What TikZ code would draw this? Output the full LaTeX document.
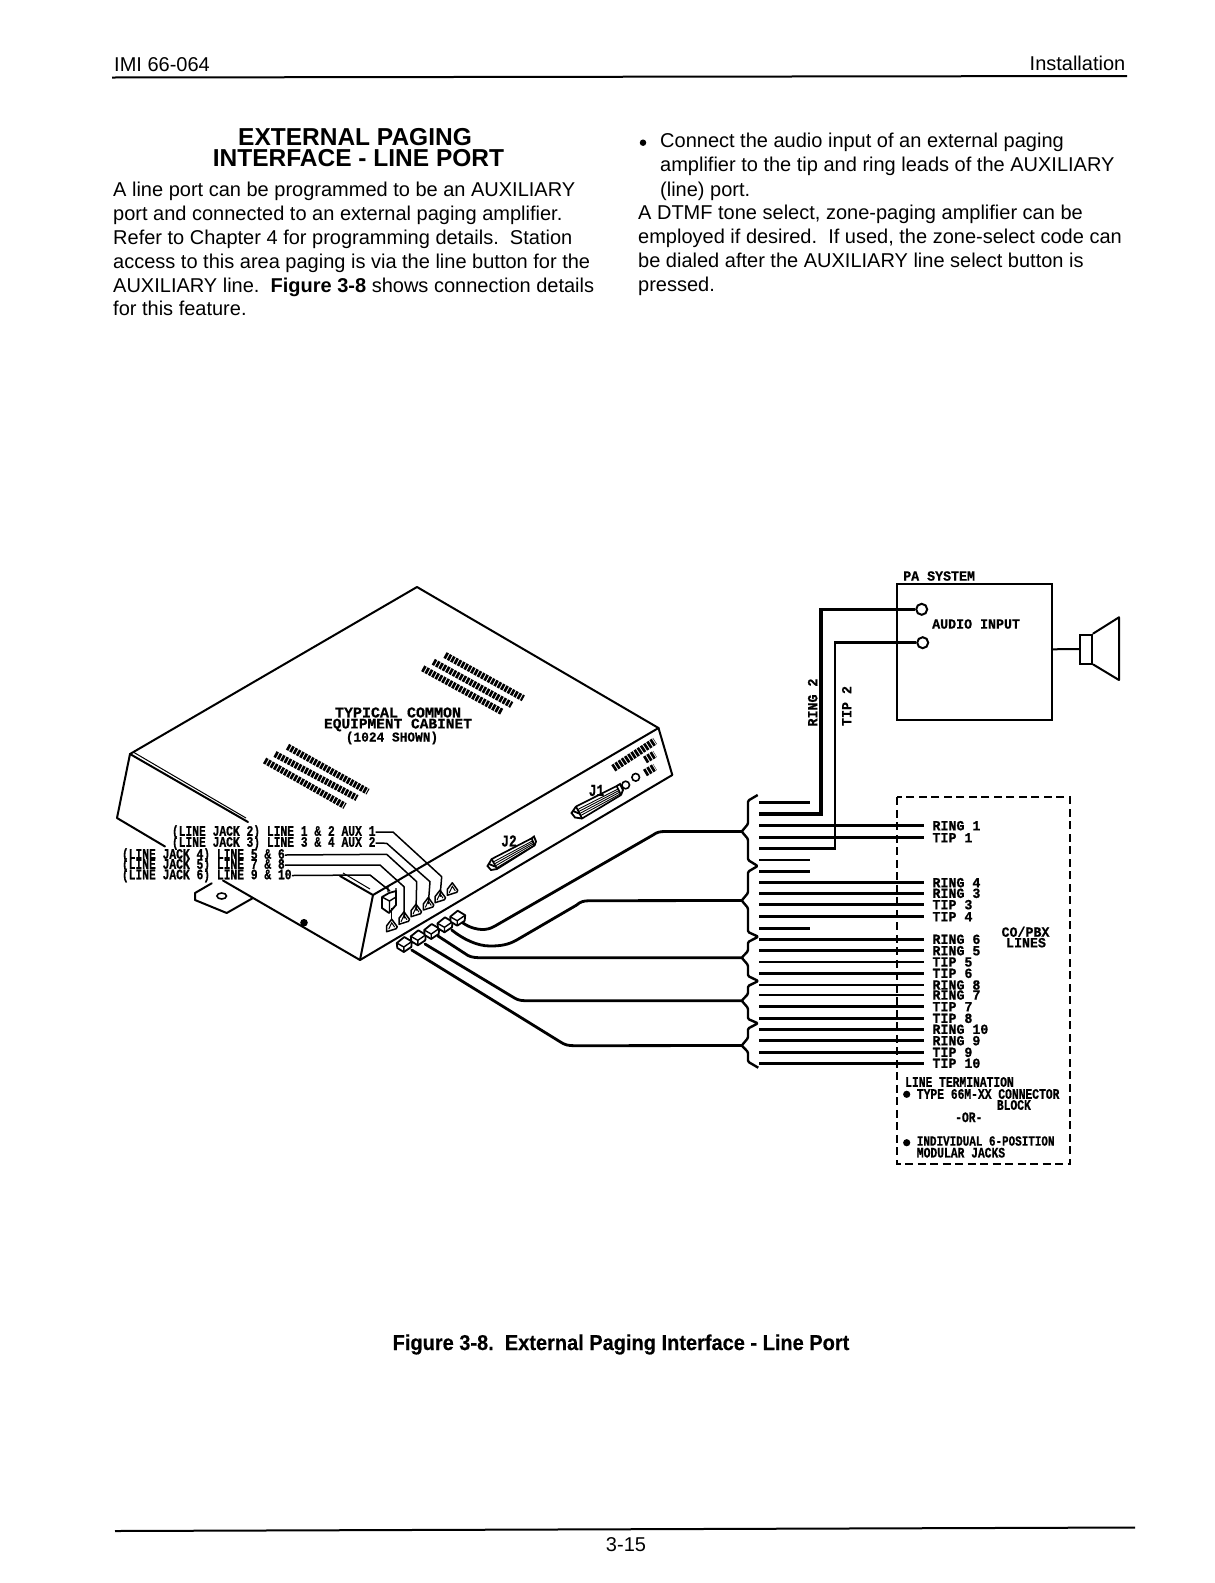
\documentclass[tikz,border=0pt]{standalone}
\usetikzlibrary{calc}
\usepackage{fontspec}
\setmainfont{Liberation Sans}
\newfontfamily\cadfont[FakeStretch=0.95,FakeBold=0.7]{Liberation Mono}
\newfontfamily\cadnarrow[FakeStretch=0.78,FakeBold=0.7]{Liberation Mono}
\newfontfamily\cadwide[FakeBold=0.7]{Liberation Mono}
\newfontfamily\capfont[FakeStretch=0.93,FakeBold=0.4]{Liberation Sans}
\tikzset{
  body/.style={anchor=base west,inner sep=0pt,font=\fontsize{20}{24}\selectfont},
  head/.style={anchor=base,inner sep=0pt,font=\fontsize{24.5}{25}\selectfont\bfseries},
  cad/.style={inner sep=0pt,font=\fontsize{14}{14}\selectfont\cadfont\bfseries},
  cadwd/.style={inner sep=0pt,font=\fontsize{14.5}{14.5}\selectfont\cadwide\bfseries},
  cadsm/.style={inner sep=0pt,anchor=west,font=\fontsize{14.5}{14.5}\selectfont\cadnarrow\bfseries},
  wire/.style={line width=2.8pt},
  leader/.style={line width=1.5pt,line join=round},
  cab/.style={line width=2pt,line join=round,line cap=round},
  cable/.style={line width=2.8pt,line cap=round,line join=round},
  brc/.style={line width=2.4pt,line join=round,rounded corners=1.2pt},
  vent/.style={line width=6.5pt,dash pattern=on 2.7pt off 1.1pt},
  term/.style={circle,draw,line width=2pt,fill=white,minimum size=11pt,inner sep=0pt},
  small/.style={line width=1.5pt,line join=round,fill=white},
}
\newcommand{\jacksmall}[2]{%
  \coordinate (#1) at (#2);
  \draw[small,shift={(#2)}] (-5,6)--(-5,0)--(0,-6.5)--(5.5,1)--(4.5,3)--cycle;
  \draw[line width=1pt,shift={(#2)}] (-3,3.5)--(0,-3)--(3,1.5);}
\newcommand{\plug}[2]{%
  \coordinate (#1) at (#2);
  \draw[small,line width=1.8pt,shift={(#2)}] (-7.5,-1)--(0,-7)--(7.5,-2.5)--(7,3)--(-.5,8)--(-7,4)--cycle;
  \draw[line width=1.4pt,shift={(#2)}] (-7.5,-1)--(-.5,3)--(7.5,-2.5) (-.5,3)--(-.5,8);}
\begin{document}
\begin{tikzpicture}[x=1pt,y=-1pt]
\useasboundingbox (0,0) rectangle (1215,1583);
\fill[white] (0,0) rectangle (1215,1583);

% ---- page furniture
\node[body] (hl) at (114,71.7) {IMI 66-064};
\node[body,anchor=base east] (hr) at (1125.5,70) {Installation};
\coordinate (ruleA) at (112,77.5); \coordinate (ruleB) at (1127,76);
\draw[line width=2pt] (ruleA)--(ruleB);
\node[head] (h1) at (355,145) {EXTERNAL PAGING};
\node[head] (h2) at (358.5,166) {INTERFACE - LINE PORT};
\node[body] (a1) at (113,196) {A line port can be programmed to be an AUXILIARY};
\node[body] (a2) at (113,220) {port and connected to an external paging amplifier.};
\node[body] (a3) at (113,244) {Refer to Chapter 4 for programming details.\ \ Station};
\node[body] (a4) at (113,268) {access to this area paging is via the line button for the};
\node[body] (a5) at (113,292) {AUXILIARY line.\ \ \textbf{Figure 3-8} shows connection details};
\node[body] (a6) at (113,315.5) {for this feature.};
\node[circle,fill,inner sep=0pt,minimum size=6.5pt] (bl) at (643,142.7) {};
\node[body] (b1) at (660,147.3) {Connect the audio input of an external paging};
\node[body] (b2) at (660,171.7) {amplifier to the tip and ring leads of the AUXILIARY};
\node[body] (b3) at (660,196) {(line) port.};
\node[body] (b4) at (638,219.5) {A DTMF tone select, zone-paging amplifier can be};
\node[body] (b5) at (638,243.5) {employed if desired.\ \ If used, the zone-select code can};
\node[body] (b6) at (638,267.5) {be dialed after the AUXILIARY line select button is};
\node[body] (b7) at (638,291.7) {pressed.};
\node[anchor=base,inner sep=0pt,font=\fontsize{21.5}{21.5}\selectfont\capfont\bfseries] (cap) at (621,1350) {Figure 3-8.\ \ External Paging Interface - Line Port};
\coordinate (footA) at (115,1531); \coordinate (footB) at (1135,1527.5);
\draw[line width=2pt] (footA)--(footB);
\node[anchor=base,inner sep=0pt,font=\fontsize{20}{20}\selectfont] (pg) at (626,1551.7) {3-15};

% ---- cabinet
\coordinate (apex) at (417,587);
\coordinate (L) at (130,754);
\coordinate (R) at (658.5,728);
\coordinate (T) at (373,895);
\coordinate (F) at (360,960);
\coordinate (LL) at (117,818);
\coordinate (RL) at (672.3,775);
\draw[cab] (L)--(apex)--(R)--(T);
\draw[cab] (L)--(LL)--(165,846.5);
\draw[cab] (223,880.5)--(F)--(RL)--(R);
\draw[cab] (T)--(F);
\draw[cab] (L)--(248,822);
\draw[line width=1pt] (134,752.5)--(246,818);
\draw[cab] (340,876)--(T);
\draw[line width=1pt] (343,873)--(370,889);
\fill (304,922.7) circle [radius=3.8];
% mounting tab
\draw[cab] (211.7,883.3)--(195,893)--(195,900)--(226.7,913)--(253,898);
\draw[line width=1.6pt] (221.7,896) circle [x radius=4.8,y radius=3];

% vents on top
\draw[vent] (445,655)--(523.3,698.3);
\draw[vent] (433.3,661.7)--(511.7,705);
\draw[vent] (422.7,668.3)--(501.7,711.7);
\draw[vent] (287.5,746.7)--(368,791.7);
\draw[vent] (275,754)--(357,798);
\draw[vent] (264.6,760.5)--(345,806);
% vents on side
\draw[vent,line width=7.5pt] (613.3,768.3)--(655,741);
\draw[vent,line width=7.5pt] (645,760)--(655,754);
\draw[vent,line width=7.5pt] (645,773)--(655,767);
\draw[line width=1.6pt] (625.7,785) circle [radius=3.8];
\draw[line width=1.6pt] (635.7,777.3) circle [radius=3.8];

% connectors J1, J2
\draw[cab,line width=1.7pt,fill=white] (576,806.5)--(616.7,786)--(621,795)--(582,818.5)--cycle;
\foreach \d in {2.5,4.5,6.5,8.5}{\draw[line width=.9pt] ($(576.5,807)+(\d*.5,\d)$)--($(617,787)+(\d*.4,\d*.8)$);}
\draw[line width=1.8pt] (576,806.5)--(571.5,813)--(575,817.5)--(582,818.5) (573,811)--(579,813.5) (616.7,786)--(620,784)--(623,790)--(621,795);
\draw[cab,line width=1.7pt,fill=white] (491.7,859)--(531.7,838.3)--(534.5,845.5)--(497,869)--cycle;
\foreach \d in {2.5,4.5,6.5,8.5}{\draw[line width=.9pt] ($(492,859.5)+(\d*.5,\d)$)--($(532,839)+(\d*.3,\d*.7)$);}
\draw[line width=1.8pt] (491.7,859)--(487.5,866)--(491,870)--(497,869) (489,864)--(495,866.5) (531.7,838.3)--(534,836.5)--(536,841.5)--(534.5,845.5);
\node[cad,font=\fontsize{16.5}{16.5}\selectfont\cadnarrow\bfseries] (j1) at (596.5,790.5) {J1};
\node[cad,font=\fontsize{16.5}{16.5}\selectfont\cadnarrow\bfseries] (j2) at (509,841) {J2};

% cabinet label
\node[cadwd,font=\fontsize{15}{15}\selectfont\cadwide\bfseries] (c1) at (398,712.5) {TYPICAL COMMON};
\node[cadwd] (c2) at (398,725) {EQUIPMENT CABINET};
\node[cad,font=\fontsize{13.5}{13.5}\selectfont\cadfont\bfseries] (c3) at (392,738) {(1024 SHOWN)};

% front panel
\draw[small,line width=1.8pt] (382,897)--(389,893)--(396,891)--(396,905)--(389,913)--(382,908)--cycle;
\draw[line width=1.4pt] (382,897)--(389.5,901)--(396,897) (389.5,901)--(389.5,913) (388,892)--(388,886) (396,888)--(396,905);
\coordinate (bigjack) at (390,891);
\draw[line width=1.5pt] (391.7,908)--(391.7,919);
\jacksmall{s1}{391.7,925.7}
\jacksmall{s2}{404,918.3}
\jacksmall{s3}{416,910.7}
\jacksmall{s4}{428.3,904}
\jacksmall{s5}{440,896.7}
\jacksmall{s6}{452.3,889.3}

% leader labels
\node[cadsm] (l1) at (171.7,832) {(LINE JACK 2) LINE 1 \& 2 AUX 1};
\node[cadsm] (l2) at (171.7,843) {(LINE JACK 3) LINE 3 \& 4 AUX 2};
\node[cadsm] (l3) at (121.7,855) {(LINE JACK 4) LINE 5 \& 6};
\node[cadsm] (l4) at (121.7,865) {(LINE JACK 5) LINE 7 \& 8};
\node[cadsm] (l5) at (121.7,875.5) {(LINE JACK 6) LINE 9 \& 10};
\draw[leader] (l1.east)--(393,832)--(441.7,876.7)--(s5);
\draw[leader] (l2.east)--(386.7,843.3)--(430,881.7)--(s4);
\draw[leader] (l3.east)--(386.7,854.3)--(416.7,881.7)--(s3);
\draw[leader] (l4.east)--(380,865)--(404,886.7)--(s2);
\draw[leader] (l5.east)--(370,875)--(bigjack);

% wires
\foreach \n/\y in {a/802.3,c/860,d/871.3,e/928.3}{
  \coordinate (sl\n) at (759,\y); \coordinate (sr\n) at (810,\y);
  \draw[wire] (sl\n)--(sr\n);}
\coordinate (w2) at (759,814);
\coordinate (w2t) at (759,848.7);

% dashed box
\draw[line width=1.7pt,dash pattern=on 8pt off 4.5pt] (896.7,797.3) rectangle (1070,1164);

% right labels and wires
\foreach \n/\y/\t in {r1/825.7/RING 1,t1/837.7/TIP 1,r4/882.7/RING 4,r3/893.3/RING 3,t3/904.7/TIP 3,t4/916.7/TIP 4,r6/939.3/RING 6,r5/950.7/RING 5,t5/962/TIP 5,t6/973.3/TIP 6,r8/985/RING 8,r7/995/RING 7,t7/1006.7/TIP 7,t8/1018.3/TIP 8,r10/1029.3/RING 10,r9/1040.7/RING 9,t9/1052.3/TIP 9,t10/1063.3/TIP 10}{
  \node[cad,anchor=west] (lab\n) at (932.3,\y) {\t};
  \coordinate (wl\n) at (759,\y);
  \draw[wire] (wl\n)--([xshift=-8pt]lab\n.west);}

% PA system
\node[cad,anchor=west] (pa) at (903,576) {PA SYSTEM};
\coordinate (pa1) at (897,584); \coordinate (pa2) at (1052,720);
\draw[line width=2pt] (pa1) rectangle (pa2);
\node[term] (in1) at (921.7,609.3) {};
\node[term] (in2) at (922.7,642.7) {};
\node[cad,anchor=west] (ai) at (932,624) {AUDIO INPUT};
\draw[wire,line width=3.2pt] (w2)-|(821,609.3)--(in1);
\draw[wire] (w2t)-|(835,642.7)--(in2);
\node[cad,rotate=90] (rg2) at (812.7,702.5) {RING 2};
\node[cad,rotate=90] (tp2) at (846.7,706) {TIP 2};
% speaker
\node[draw,line width=2pt,minimum width=12.5pt,minimum height=29pt,inner sep=0pt] (spk) at (1086,649) {};
\draw[line width=2pt] (1052,649.3)--(spk.west);
\draw[cab] (spk.north east)--(1119,617.3)--(1119,680)--(spk.south east);

% labels at foot of dashed box
\node[cad] (co1) at (1025.5,931.7) {CO/PBX};
\node[cad] (co2) at (1026,942.7) {LINES};
\node[cadsm] (t1) at (905,1082) {LINE TERMINATION};
\fill (906.7,1094.3) circle [radius=3.6];
\node[cadsm] (t2) at (916.7,1094) {TYPE 66M-XX CONNECTOR};
\node[cadsm] (t3) at (996.7,1105) {BLOCK};
\node[cadsm] (t4) at (955,1117.3) {-OR-};
\fill (906.7,1142.7) circle [radius=3.6];
\node[cadsm,font=\fontsize{14}{14}\selectfont\cadnarrow\bfseries] (t5) at (916.7,1141) {INDIVIDUAL 6-POSITION};
\node[cadsm] (t6) at (916.7,1152.7) {MODULAR JACKS};

% braces
\coordinate (br1) at (741.7,831.5);
\coordinate (br2) at (741.7,900.5);
\coordinate (br3) at (741.7,957.7);
\coordinate (br4) at (741.7,1000.7);
\coordinate (br5) at (741.7,1045.5);
\draw[brc] (757.7,795)--(748,800.7)--(748,824)--(br1)--(748,839)--(748,860)--(757.7,866)--(748,871.7)--(748,893)--(br2)--(748,908)--(748,932)--(758.3,936.7)--(748,942)--(748,951)--(br3)--(748,965)--(748,976)--(758.3,981)--(748,986)--(748,994)--(br4)--(748,1008)--(748,1019)--(758,1023.3)--(748,1028.5)--(748,1038)--(br5)--(748,1052)--(748,1061.7)--(758.3,1067.7);

% plugs and cables
\draw[cable] (411.7,950)--(560,1041.7) .. controls (565,1045) and (568,1045.7) .. (575,1045.7) -- (br5);
\draw[cable] (425,944)--(515,998.3) .. controls (519,1000.5) and (522,1000.7) .. (528,1000.7) -- (br4);
\draw[cable] (438,936)--(468,955.5) .. controls (472,957.5) and (476,957.7) .. (482,957.7) -- (br3);
\draw[cable] (451.7,930) .. controls (463,939) and (477,946) .. (490,946) .. controls (500,946) and (508,945) .. (516.7,940) -- (576.7,905) .. controls (580,902) and (583,900.7) .. (590,900.7) -- (br2);
\draw[cable] (463,923) .. controls (470,928) and (478,929.5) .. (482,929.5) .. controls (486,929.5) and (490,929) .. (495,926) -- (653,835) .. controls (657,832) and (660,831.5) .. (666,831.5) -- (br1);
\plug{p1}{404.3,944}
\plug{p2}{418.3,937.3}
\plug{p3}{431.7,931}
\plug{p4}{445,924.3}
\plug{p5}{457.7,917.7}
\end{tikzpicture}
\end{document}
